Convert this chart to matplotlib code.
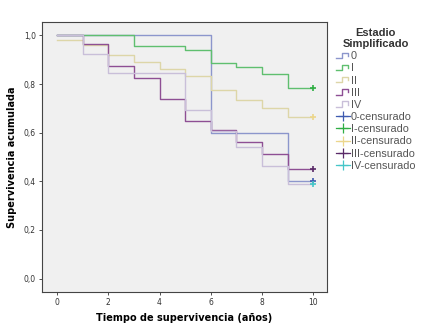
import numpy as np
import matplotlib
matplotlib.use('Agg')
import matplotlib.pyplot as plt
from matplotlib.lines import Line2D
from matplotlib.legend_handler import HandlerBase

plt.rcParams['font.family'] = ['DejaVu Sans']

# datos (Kaplan-Meier por estadio)
tiempos = [0, 1, 2, 3, 4, 5, 6, 7, 8, 9, 10]
estadios = ['0', 'I', 'II', 'III', 'IV']
surv_0 = [1.0, 1.0, 1.0, 1.0, 1.0, 1.0, 0.600, 0.600, 0.600, 0.400, 0.400]
surv_I = [1.0, 1.0, 1.0, 0.958, 0.958, 0.941, 0.887, 0.870, 0.842, 0.783, 0.783]
surv_II = [0.980, 0.960, 0.921, 0.889, 0.860, 0.834, 0.776, 0.735, 0.701, 0.663, 0.663]
surv_III = [1.0, 0.963, 0.874, 0.825, 0.738, 0.650, 0.613, 0.562, 0.512, 0.450, 0.450]
surv_IV = [1.0, 0.923, 0.846, 0.846, 0.846, 0.692, 0.607, 0.541, 0.462, 0.387, 0.387]
t_censura = 10

colores = ['#8c96cc', '#5fbf6f', '#ddd6a8', '#8e4f94', '#c9bfd9']
colores_cens = ['#3f5bb0', '#2fae44', '#ecd68c', '#5a2a68', '#45c6c8']


class StepHandler(HandlerBase):
    def create_artists(self, legend, orig_handle, xdescent, ydescent,
                       width, height, fontsize, trans):
        w, h = width, height
        xs = np.array([0, 0.42, 0.42, 0.85, 0.85]) * w - xdescent
        ys = np.array([0.15, 0.15, 0.85, 0.85, 0.45]) * h - ydescent
        ln = Line2D(xs, ys, color=orig_handle.get_color(), lw=1.0)
        ln.set_transform(trans)
        return [ln]


fig = plt.figure(figsize=(4.38, 3.31), dpi=100)
ax = fig.add_axes([0.096, 0.118, 0.651, 0.816])
ax.set_facecolor('#f0f0f0')

series = [surv_0, surv_I, surv_II, surv_III, surv_IV]
lineas = []
for nombre, s, c in zip(estadios, series, colores):
    l, = ax.step(tiempos, s, where='post', color=c, lw=1.0, label=nombre)
    lineas.append(l)

marcas = []
for nombre, s, c in zip(estadios, series, colores_cens):
    ax.plot([t_censura], [s[-1]], marker='+', ms=5, mew=1.2, color=c,
            linestyle='none')
    marcas.append(Line2D([], [], color=c, lw=0.9, marker='+', ms=7, mew=0.9,
                         label=nombre + '-censurado'))

ax.set_xlim(-0.59, 10.55)
ax.set_ylim(-0.055, 1.056)
ax.set_xticks([0, 2, 4, 6, 8, 10])
ax.set_yticks([0.0, 0.2, 0.4, 0.6, 0.8, 1.0])
ax.set_yticklabels(['0,0', '0,2', '0,4', '0,6', '0,8', '1,0'])
ax.tick_params(labelsize=5.5, length=2.5, width=0.6, colors='#333333', pad=2)
for sp in ax.spines.values():
    sp.set_color('#444444')
    sp.set_linewidth(0.8)

ax.set_xlabel('Tiempo de supervivencia (años)', fontsize=7, fontweight='bold',
              labelpad=4)
ax.set_ylabel('Supervivencia acumulada', fontsize=7, fontweight='bold',
              labelpad=5)

handles = lineas + marcas
hmap = {l: StepHandler() for l in lineas}
leg = fig.legend(handles=handles, loc='upper left',
                 bbox_to_anchor=(0.757, 0.93), frameon=False,
                 title='Estadio\nSimplificado',
                 prop={'family': 'Liberation Sans', 'size': 7.8},
                 title_fontproperties={'family': 'Liberation Sans',
                                       'weight': 'bold', 'size': 8},
                 handlelength=1.3, handletextpad=0.1, labelspacing=0.2,
                 borderaxespad=0, handler_map=hmap)
leg.get_title().set_multialignment('center')
leg.get_title().set_color('#333333')
for t in leg.get_texts():
    t.set_color('#555555')

fig.savefig('out.png', dpi=100)
